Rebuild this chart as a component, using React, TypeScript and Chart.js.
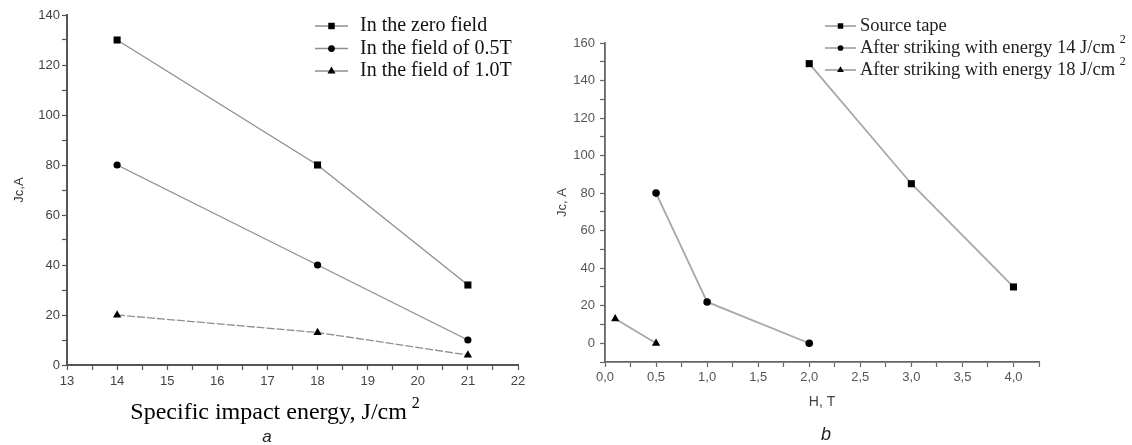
import React, { useEffect, useRef } from 'react';
import { Chart, registerables } from 'chart.js';

Chart.register(...registerables);

// ---------- Data: chart a ----------
const energyValues = [14, 18, 21];
const zeroFieldJc = [130, 80, 32];
const field05Jc = [80, 40, 10];
const field10Jc = [20, 13, 4];
const seriesALabels = ['In the zero field', 'In the field of 0.5T', 'In the field of 1.0T'];
const energyAxisRange = [13, 22];
const jcAxisRangeA = [0, 140];
const xTitleA = 'Specific impact energy, J/cm²';

// ---------- Data: chart b ----------
const sourceTapeH = [2.0, 3.0, 4.0];
const sourceTapeJc = [149, 85, 30];
const after14H = [0.5, 1.0, 2.0];
const after14Jc = [80, 22, 0];
const after18H = [0.1, 0.5];
const after18Jc = [13, 0];
const seriesBLabels = [
  'Source tape',
  'After striking with energy 14 J/cm²',
  'After striking with energy 18 J/cm²',
];
const fieldAxisRange = [0, 4.25];
const jcAxisRangeB = [-10, 160];

const pts = (xs: number[], ys: number[]) => xs.map((x, i) => ({ x, y: ys[i] }));

function splitSup(t: string): [string, string] {
  return t.endsWith('²') ? [t.slice(0, -1), '2'] : [t, ''];
}

function drawMarker(ctx: CanvasRenderingContext2D, style: string, x: number, y: number, r: number) {
  ctx.beginPath();
  if (style === 'rect') {
    const s = r * 0.72;
    ctx.rect(x - s, y - s, 2 * s, 2 * s);
  } else if (style === 'circle') {
    ctx.arc(x, y, r * 0.75, 0, Math.PI * 2);
  } else {
    ctx.moveTo(x, y - r);
    ctx.lineTo(x + r * 0.9, y + r * 0.55);
    ctx.lineTo(x - r * 0.9, y + r * 0.55);
    ctx.closePath();
  }
  ctx.fill();
}

const customLegend = {
  id: 'customLegend',
  afterDraw(chart: any, _args: any, opts: any) {
    const ctx: CanvasRenderingContext2D = chart.ctx;
    ctx.save();
    chart.data.datasets.forEach((ds: any, i: number) => {
      const y = opts.y + i * opts.spacing;
      ctx.strokeStyle = ds.borderColor;
      ctx.lineWidth = ds.borderWidth;
      ctx.setLineDash([]);
      ctx.beginPath();
      ctx.moveTo(opts.x, y);
      ctx.lineTo(opts.x + opts.sampleWidth, y);
      ctx.stroke();
      ctx.fillStyle = '#000';
      drawMarker(ctx, ds.pointStyle, opts.x + opts.sampleWidth / 2, y, opts.markerSize);
      const [text, sup] = splitSup(ds.label);
      ctx.font = opts.font;
      ctx.fillStyle = opts.color;
      ctx.textAlign = 'left';
      ctx.textBaseline = 'middle';
      ctx.fillText(text, opts.textX, y);
      if (sup) {
        const w = ctx.measureText(text + ' ').width;
        ctx.font = opts.supFont;
        ctx.fillText(sup, opts.textX + w, y - 8);
      }
    });
    ctx.restore();
  },
};

const captions = {
  id: 'captions',
  afterDraw(chart: any, _args: any, opts: any) {
    const ctx: CanvasRenderingContext2D = chart.ctx;
    ctx.save();
    ctx.textBaseline = 'middle';
    ctx.textAlign = 'left';
    (opts.items || []).forEach((it: any) => {
      const [text, sup] = splitSup(it.text);
      ctx.font = it.font;
      const w = ctx.measureText(text).width;
      let supW = 0;
      let gap = 0;
      if (sup) {
        gap = ctx.measureText(' ').width * 0.8;
        ctx.font = it.supFont;
        supW = ctx.measureText(sup).width;
      }
      const x0 = it.x - (w + gap + supW) / 2;
      ctx.fillStyle = it.color;
      ctx.font = it.font;
      ctx.fillText(text, x0, it.y);
      if (sup) {
        ctx.font = it.supFont;
        ctx.fillText(sup, x0 + w + gap, it.y - it.supRaise);
      }
    });
    ctx.restore();
  },
};

const tickFont = { family: '"Liberation Sans", Arial, sans-serif', size: 13 };

function buildA(canvas: HTMLCanvasElement) {
  const lineColor = '#8e8e8e';
  return new Chart(canvas, {
    type: 'line',
    data: {
      datasets: [
        { label: seriesALabels[0], data: pts(energyValues, zeroFieldJc), pointStyle: 'rect', pointRadius: 5 },
        { label: seriesALabels[1], data: pts(energyValues, field05Jc), pointStyle: 'circle', pointRadius: 3.6 },
        { label: seriesALabels[2], data: pts(energyValues, field10Jc), pointStyle: 'triangle', pointRadius: 4.8, borderDash: [8, 2] },
      ].map((d) => ({
        ...d,
        borderColor: lineColor,
        borderWidth: 1.3,
        backgroundColor: '#000',
        pointBackgroundColor: '#000',
        pointBorderColor: '#000',
        pointBorderWidth: 0,
        tension: 0,
        clip: false as any,
      })) as any,
    },
    options: {
      responsive: false,
      animation: false,
      events: [],
      layout: { padding: { top: 15, right: 27, bottom: 0, left: 0 } },
      plugins: {
        legend: { display: false },
        tooltip: { enabled: false },
        customLegend: {
          x: 315, y: 26, spacing: 22.5, sampleWidth: 33, markerSize: 4.5, textX: 360,
          font: '20px "Liberation Serif", "Times New Roman", serif',
          supFont: '13px "Liberation Serif", serif', color: '#111',
        },
        captions: {
          items: [
            { text: xTitleA, x: 275, y: 413, font: '24px "Liberation Serif", "Times New Roman", serif', supFont: '16px "Liberation Serif", serif', supRaise: 9, color: '#000' },
            { text: 'a', x: 267, y: 437, font: 'italic 17px "Liberation Sans", Arial, sans-serif', color: '#222' },
          ],
        },
      } as any,
      scales: {
        x: {
          type: 'linear',
          min: energyAxisRange[0],
          max: energyAxisRange[1],
          afterFit: (s: any) => { s.height = 80; },
          ticks: {
            stepSize: 0.5,
            autoSkip: false,
            maxRotation: 0,
            padding: 4,
            color: '#444',
            font: tickFont,
            callback: (v: any) => (Number.isInteger(v) ? String(v) : ''),
          },
          grid: { drawOnChartArea: false, drawTicks: true, tickLength: 5, tickColor: '#555', tickWidth: 1.2 },
          border: { display: true, color: '#555', width: 2 },
        },
        y: {
          type: 'linear',
          min: jcAxisRangeA[0],
          max: jcAxisRangeA[1],
          afterFit: (s: any) => { s.width = 67; },
          ticks: {
            stepSize: 10,
            autoSkip: false,
            padding: 2,
            color: '#444',
            font: tickFont,
            callback: (v: any) => (v % 20 === 0 ? String(v) : ''),
          },
          grid: { drawOnChartArea: false, drawTicks: true, tickLength: 5, tickColor: '#555', tickWidth: 1.2 },
          border: { display: true, color: '#555', width: 2 },
          title: {
            display: true,
            text: 'Jc,A',
            color: '#333',
            font: { family: '"Liberation Sans", Arial, sans-serif', size: 13 },
            padding: { top: 12, bottom: 0 },
          },
        },
      },
    } as any,
    plugins: [customLegend, captions],
  });
}

function buildB(canvas: HTMLCanvasElement) {
  const lineColor = '#a8a8a8';
  return new Chart(canvas, {
    type: 'line',
    data: {
      datasets: [
        { label: seriesBLabels[0], data: pts(sourceTapeH, sourceTapeJc), pointStyle: 'rect', pointRadius: 5 },
        { label: seriesBLabels[1], data: pts(after14H, after14Jc), pointStyle: 'circle', pointRadius: 3.8 },
        { label: seriesBLabels[2], data: pts(after18H, after18Jc), pointStyle: 'triangle', pointRadius: 4.8 },
      ].map((d) => ({
        ...d,
        borderColor: lineColor,
        borderWidth: 1.8,
        backgroundColor: '#000',
        pointBackgroundColor: '#000',
        pointBorderColor: '#000',
        pointBorderWidth: 0,
        tension: 0,
        clip: false as any,
      })) as any,
    },
    options: {
      responsive: false,
      animation: false,
      events: [],
      layout: { padding: { top: 43, right: 93, bottom: 0, left: 0 } },
      plugins: {
        legend: { display: false },
        tooltip: { enabled: false },
        customLegend: {
          x: 280, y: 26, spacing: 22, sampleWidth: 31, markerSize: 3.8, textX: 315,
          font: '18.5px "Liberation Serif", "Times New Roman", serif',
          supFont: '12px "Liberation Serif", serif', color: '#222',
        },
        captions: {
          items: [
            { text: 'b', x: 281, y: 435, font: 'italic 18px "Liberation Sans", Arial, sans-serif', color: '#222' },
          ],
        },
      } as any,
      scales: {
        x: {
          type: 'linear',
          min: fieldAxisRange[0],
          max: fieldAxisRange[1],
          afterFit: (s: any) => { s.height = 83; },
          ticks: {
            stepSize: 0.25,
            autoSkip: false,
            maxRotation: 0,
            padding: 3,
            color: '#555',
            font: tickFont,
            callback: (v: any) => (Math.abs(v * 2 - Math.round(v * 2)) < 1e-9 ? Number(v).toFixed(1).replace('.', ',') : ''),
          },
          grid: { drawOnChartArea: false, drawTicks: true, tickLength: 5, tickColor: '#666', tickWidth: 1.2 },
          border: { display: true, color: '#666', width: 1.8 },
          title: {
            display: true,
            text: 'H, T',
            color: '#444',
            font: { family: '"Liberation Sans", Arial, sans-serif', size: 14 },
            padding: { top: 0, bottom: 34 },
          },
        },
        y: {
          type: 'linear',
          min: jcAxisRangeB[0],
          max: jcAxisRangeB[1],
          afterFit: (s: any) => { s.width = 60; },
          ticks: {
            stepSize: 10,
            autoSkip: false,
            padding: 5,
            color: '#555',
            font: tickFont,
            callback: (v: any) => (v >= 0 && v % 20 === 0 ? String(v) : ''),
          },
          grid: { drawOnChartArea: false, drawTicks: true, tickLength: 5, tickColor: '#666', tickWidth: 1.2 },
          border: { display: true, color: '#666', width: 1.8 },
          title: {
            display: true,
            text: 'Jc, A',
            color: '#444',
            font: { family: '"Liberation Sans", Arial, sans-serif', size: 13 },
            padding: { top: 10, bottom: 0 },
          },
        },
      },
    } as any,
    plugins: [customLegend, captions],
  });
}

export default function App() {
  const refA = useRef<HTMLCanvasElement>(null);
  const refB = useRef<HTMLCanvasElement>(null);
  useEffect(() => {
    const a = buildA(refA.current!);
    const b = buildB(refB.current!);
    return () => {
      a.destroy();
      b.destroy();
    };
  }, []);
  return (
    <div style={{ position: 'absolute', left: 0, top: 0, width: 1132, height: 445, background: '#fff', overflow: 'hidden' }}>
      <canvas ref={refA} width={545} height={445} style={{ position: 'absolute', left: 0, top: 0, display: 'block' }} />
      <canvas ref={refB} width={587} height={445} style={{ position: 'absolute', left: 545, top: 0, display: 'block' }} />
    </div>
  );
}
